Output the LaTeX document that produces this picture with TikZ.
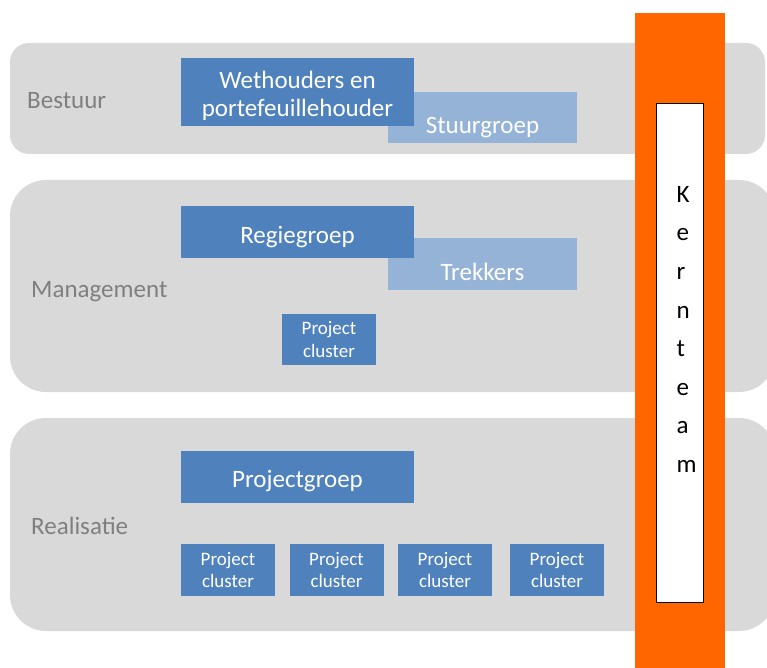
\documentclass[tikz,border=0pt]{standalone}
\usepackage{fontspec}
\setmainfont{Carlito}
\definecolor{band}{HTML}{D9D9D9}
\definecolor{dblue}{HTML}{4F81BD}
\definecolor{lblue}{HTML}{95B3D7}
\definecolor{orng}{HTML}{FF6600}
\definecolor{lbl}{HTML}{7F7F7F}
\begin{document}
\begin{tikzpicture}[x=1pt,y=-1pt,
  dbox/.style={fill=dblue,draw=none,inner sep=0pt},
  lbox/.style={fill=lblue,draw=none,inner sep=0pt},
  ttxt/.style={text=white,inner sep=0pt,font=\fontsize{25}{28.5}\selectfont,text height=16pt,text depth=0pt},
  mtxt/.style={text=white,inner sep=0pt,align=center,font=\fontsize{25}{28.5}\selectfont},
  pcl/.style={fill=dblue,draw=none,inner sep=0pt,text=white,align=center,font=\fontsize{19}{22.5}\selectfont,minimum width=94pt,minimum height=52pt},
  lvl/.style={text=lbl,anchor=west,inner sep=0pt,font=\fontsize{25}{29}\selectfont,text height=16pt,text depth=0pt}]
\useasboundingbox (0,0) rectangle (767,668);
\clip (0,0) rectangle (767,668);
% bands
\fill[band,rounded corners=19pt] (10,43) rectangle (765,154);
\fill[band,rounded corners=36pt] (10,180) rectangle (775,392);
\fill[band,rounded corners=36pt] (10,418) rectangle (775,631);
% level labels
\node[lvl] (bestuur) at (27,101) {Bestuur};
\node[lvl] (management) at (31,289) {Management};
\node[lvl] (realisatie) at (31,526) {Realisatie};
% Bestuur
\node[lbox,minimum width=189pt,minimum height=51pt] (stuur) at (482.5,117.5) {};
\node[ttxt] (stuurtxt) at (482.5,126) {Stuurgroep};
\node[dbox,minimum width=233pt,minimum height=68pt] (weth) at (297.5,92) {};
\node[mtxt] (wethtxt) at (297.5,96) {Wethouders en\\portefeuillehouder};
% Management
\node[lbox,minimum width=189pt,minimum height=52pt] (trek) at (482.5,264) {};
\node[ttxt] (trektxt) at (482.5,272) {Trekkers};
\node[dbox,minimum width=233pt,minimum height=52pt] (regie) at (297.5,232) {};
\node[ttxt] (regietxt) at (297.5,235) {Regiegroep};
\node[pcl,minimum height=51pt] (pc0) at (329,339.5) {Project\\cluster};
% Realisatie
\node[dbox,minimum width=233pt,minimum height=52pt] (projg) at (297.5,477) {};
\node[ttxt] (projgtxt) at (297.5,479) {Projectgroep};
\node[pcl] (pc1) at (228,570) {Project\\cluster};
\node[pcl] (pc2) at (336.5,570) {Project\\cluster};
\node[pcl] (pc3) at (445,570) {Project\\cluster};
\node[pcl] (pc4) at (557,570) {Project\\cluster};
% Kernteam
\fill[orng] (635,13) rectangle (725,670);
\node[draw=black,line width=0.8pt,fill=white,minimum width=47pt,minimum height=499pt,inner sep=0pt] (kbox) at (679.5,352.5) {};
\node[inner sep=0pt,align=left,font=\fontsize{25}{38.6}\selectfont,anchor=north west] (kern) at (676.5,186) {K\\e\\r\\n\\t\\e\\a\\m};
\end{tikzpicture}
\end{document}
